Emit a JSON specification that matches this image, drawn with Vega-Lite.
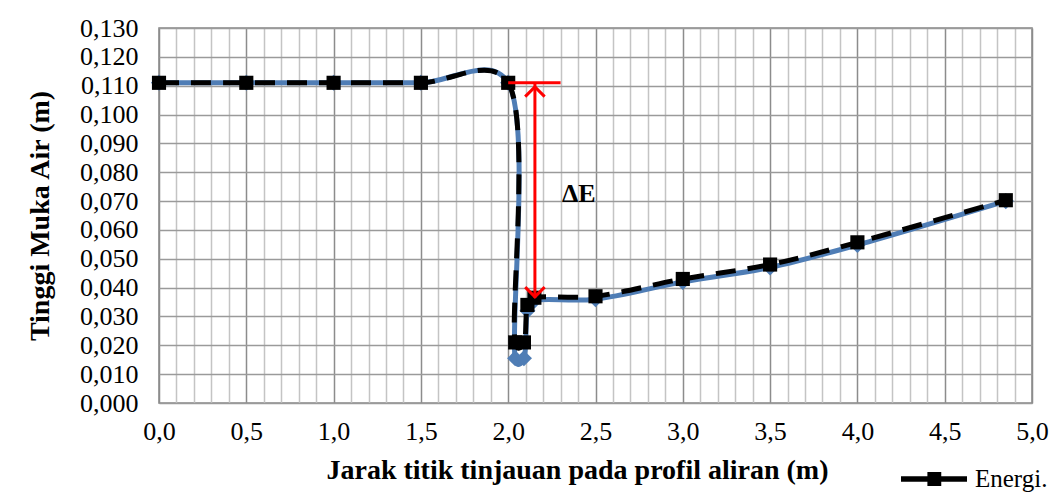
{
  "$schema": "https://vega.github.io/schema/vega-lite/v6.json",
  "autosize": {"type": "none"},
  "padding": {"left": 159, "top": 28, "right": 27, "bottom": 90},
  "width": 873,
  "height": 375,
  "background": "white",
  "config": {
    "font": "Liberation Serif",
    "view": {"stroke": "#868686", "strokeWidth": 1.5},
    "axis": {"labelFont": "Liberation Serif", "titleFont": "Liberation Serif", "labelColor": "black", "titleColor": "black"}
  },
  "datasets": {
    "profil": [
      {"x": 0.0, "y": 0.111, "seri": "Muka air"},
      {"x": 0.5, "y": 0.111, "seri": "Muka air"},
      {"x": 1.0, "y": 0.111, "seri": "Muka air"},
      {"x": 1.5, "y": 0.111, "seri": "Muka air"},
      {"x": 2.0, "y": 0.111, "seri": "Muka air"},
      {"x": 2.04, "y": 0.0155, "seri": "Muka air"},
      {"x": 2.09, "y": 0.0155, "seri": "Muka air"},
      {"x": 2.11, "y": 0.032, "seri": "Muka air"},
      {"x": 2.15, "y": 0.0355, "seri": "Muka air"},
      {"x": 2.5, "y": 0.036, "seri": "Muka air"},
      {"x": 3.0, "y": 0.042, "seri": "Muka air"},
      {"x": 3.5, "y": 0.047, "seri": "Muka air"},
      {"x": 4.0, "y": 0.0548, "seri": "Muka air"},
      {"x": 4.85, "y": 0.070, "seri": "Muka air"},
      {"x": 0.0, "y": 0.111, "seri": "Energi."},
      {"x": 0.5, "y": 0.111, "seri": "Energi."},
      {"x": 1.0, "y": 0.111, "seri": "Energi."},
      {"x": 1.5, "y": 0.111, "seri": "Energi."},
      {"x": 2.0, "y": 0.111, "seri": "Energi."},
      {"x": 2.04, "y": 0.021, "seri": "Energi."},
      {"x": 2.09, "y": 0.021, "seri": "Energi."},
      {"x": 2.11, "y": 0.034, "seri": "Energi."},
      {"x": 2.15, "y": 0.0365, "seri": "Energi."},
      {"x": 2.5, "y": 0.037, "seri": "Energi."},
      {"x": 3.0, "y": 0.043, "seri": "Energi."},
      {"x": 3.5, "y": 0.048, "seri": "Energi."},
      {"x": 4.0, "y": 0.0557, "seri": "Energi."},
      {"x": 4.85, "y": 0.0703, "seri": "Energi."}
    ],
    "garis": [
      {"x": 2.0, "x2": 2.3, "y": 0.111, "y2": 0.111},
      {"x": 2.153, "x2": 2.153, "y": 0.111, "y2": 0.0365}
    ],
    "panah": [
      {"x": 2.153, "y": 0.1096, "arah": "atas"},
      {"x": 2.153, "y": 0.0368, "arah": "bawah"}
    ],
    "label": [
      {"x": 2.404, "y": 0.0724, "teks": "ΔE"}
    ]
  },
  "encoding": {
    "x": {
      "field": "x", "type": "quantitative",
      "scale": {"domain": [0, 5], "nice": false, "zero": false},
      "axis": {
        "title": "Jarak titik tinjauan pada profil aliran (m)",
        "values": [0, 0.1, 0.2, 0.3, 0.4, 0.5, 0.6, 0.7, 0.8, 0.9, 1.0, 1.1, 1.2, 1.3, 1.4, 1.5, 1.6, 1.7, 1.8, 1.9, 2.0, 2.1, 2.2, 2.3, 2.4, 2.5, 2.6, 2.7, 2.8, 2.9, 3.0, 3.1, 3.2, 3.3, 3.4, 3.5, 3.6, 3.7, 3.8, 3.9, 4.0, 4.1, 4.2, 4.3, 4.4, 4.5, 4.6, 4.7, 4.8, 4.9, 5.0],
        "labelExpr": "abs(datum.value * 2 - round(datum.value * 2)) < 0.001 ? replace(format(datum.value, '.1f'), '.', ',') : ''",
        "labelFontSize": 26,
        "labelPadding": 15,
        "labelFlush": false,
        "labelOverlap": false,
        "ticks": false,
        "domain": false,
        "grid": true,
        "gridColor": {"condition": {"test": "abs(datum.value * 2 - round(datum.value * 2)) < 0.001", "value": "#8c8c8c"}, "value": "#c4c4c4"},
        "gridWidth": 1.5,
        "titleFontSize": 28,
        "titleFontWeight": "bold",
        "titlePadding": 12,
        "titleX": 418
      }
    },
    "y": {
      "field": "y", "type": "quantitative",
      "scale": {"domain": [0, 0.13], "nice": false},
      "axis": {
        "title": "Tinggi Muka Air (m)",
        "values": [0, 0.01, 0.02, 0.03, 0.04, 0.05, 0.06, 0.07, 0.08, 0.09, 0.10, 0.11, 0.12, 0.13],
        "labelExpr": "replace(format(datum.value, '.3f'), '.', ',')",
        "labelFontSize": 26,
        "labelPadding": 21,
        "labelFlush": false,
        "labelOverlap": false,
        "ticks": false,
        "domain": false,
        "grid": true,
        "gridColor": "#9a9a9a",
        "gridWidth": 1.5,
        "titleFontSize": 28,
        "titleFontWeight": "bold",
        "titlePadding": 25
      }
    }
  },
  "layer": [
    {
      "data": {"name": "profil"},
      "transform": [{"filter": "datum.seri === 'Muka air'"}],
      "mark": {"type": "line", "interpolate": "catmull-rom", "tension": 0.25, "color": "#4F7DB5", "strokeWidth": 5}
    },
    {
      "data": {"name": "profil"},
      "transform": [{"filter": "datum.seri === 'Muka air'"}],
      "mark": {"type": "point", "shape": "diamond", "filled": true, "color": "#4F7DB5", "size": 260, "opacity": 1}
    },
    {
      "data": {"name": "profil"},
      "transform": [{"filter": "datum.seri === 'Energi.'"}],
      "mark": {"type": "line", "interpolate": "catmull-rom", "tension": 0.25, "color": "black", "strokeWidth": 5, "strokeDash": [20, 12]}
    },
    {
      "data": {"name": "profil"},
      "transform": [{"filter": "datum.seri === 'Energi.'"}],
      "mark": {"type": "point", "shape": "square", "filled": true, "size": 200, "opacity": 1},
      "encoding": {
        "color": {
          "field": "seri", "type": "nominal",
          "scale": {"domain": ["Energi."], "range": ["black"]},
          "legend": {
            "title": null,
            "orient": "none",
            "legendX": 742,
            "legendY": 418,
            "symbolType": "M-1,-0.08H1V0.08H-1Z M-0.2,-0.21H0.22V0.21H-0.2Z",
            "symbolSize": 4356,
            "symbolStrokeWidth": 0,
            "symbolOpacity": 1,
            "labelFont": "Liberation Serif",
            "labelFontSize": 25,
            "labelColor": "black",
            "labelOffset": 8
          }
        }
      }
    },
    {
      "data": {"name": "garis"},
      "mark": {"type": "rule", "color": "#ff0000", "strokeWidth": 3},
      "encoding": {
        "x": {"field": "x", "type": "quantitative"},
        "x2": {"field": "x2"},
        "y": {"field": "y", "type": "quantitative"},
        "y2": {"field": "y2"}
      }
    },
    {
      "data": {"name": "panah"},
      "mark": {"type": "point", "filled": false, "color": "#ff0000", "strokeWidth": 3, "size": 380, "opacity": 1},
      "encoding": {
        "shape": {
          "field": "arah", "type": "nominal",
          "scale": {"domain": ["atas", "bawah"], "range": ["M-1,1L0,0L1,1", "M-1,-1L0,0L1,-1"]},
          "legend": null
        }
      }
    },
    {
      "data": {"name": "label"},
      "mark": {"type": "text", "font": "Liberation Serif", "fontSize": 26, "fontWeight": "bold", "color": "black"},
      "encoding": {"text": {"field": "teks"}}
    }
  ]
}
